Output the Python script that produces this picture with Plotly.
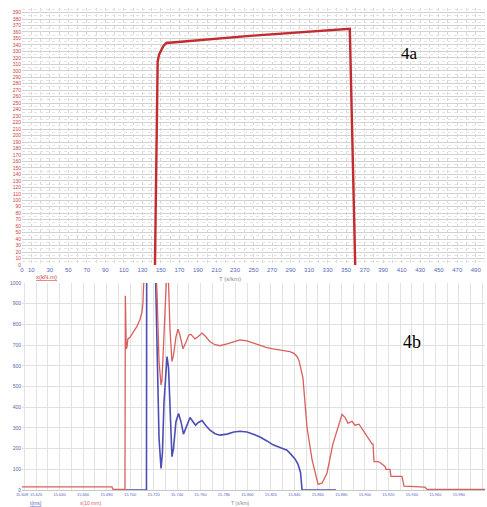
import plotly.graph_objects as go

# ---------------- Panel 4a data ----------------
a_x = [143.5, 146.5, 148.0, 150.0, 152.5, 156.0, 246.0, 354.0, 360.0]
a_y = [-10, 314, 325, 332, 338, 343, 354, 365, -10]
a_xticks = [0, 10] + list(range(30, 500, 20))
a_yticks = list(range(0, 400, 10))

# ---------------- Panel 4b data (time in ms after 15.600 s) ----------------
b_t_red = [8, 84.6, 85.5, 95.7, 96.0, 96.8, 97.4, 98.2, 100.0, 102.5, 105.9, 108.5,
           110.2, 111.0, 111.9, 112.7, 121.3, 123.0, 124.7, 126.0, 126.4, 127.2,
           128.5, 129.8, 130.2, 131.5, 132.8, 134.0, 135.7, 137.0, 139.1, 140.9,
           142.6, 145.1, 147.7, 150.2, 151.9, 155.3, 157.9, 161.3, 163.8, 168.1,
           172.4, 176.6, 182.6, 188.5, 193.6, 199.6, 205.6, 210.7, 216.6, 221.8,
           229.4, 236.2, 239.6, 242.2, 243.9, 244.7, 247.3, 249.0, 250.7, 255.0,
           260.1, 263.5, 267.7, 272.8, 277.1, 280.5, 283.1, 285.6, 289.0, 291.6,
           295.0, 298.4, 302.7, 306.1, 306.9, 307.8, 311.2, 312.9, 317.1, 318.0,
           321.4, 322.2, 331.6, 333.3, 351.2, 352.9, 402.3]
b_red = [15, 15, 3, 3, 938, 682, 690, 730, 738, 760, 790, 825,
         860, 905, 1000, 1150, 1150, 950, 620, 520, 507, 530,
         700, 950, 1000, 1080, 1000, 780, 621, 650, 740, 777,
         745, 682, 715, 750, 752, 730, 740, 758, 745, 716,
         702, 697, 706, 718, 725, 720, 708, 697, 688, 682,
         676, 668, 660, 645, 625, 605, 540, 420, 303, 147,
         28, 33, 81, 223, 305, 365, 351, 322, 332, 313,
         318, 289, 256, 223, 223, 137, 137, 133, 114, 100,
         100, 66, 66, 19, 14, 3, 3]

b_t_blue = [95.7, 114.0, 114.2, 121.3, 123.0, 124.7, 126.4, 127.6, 128.9, 130.6,
            131.5, 132.8, 134.0, 135.7, 137.0, 139.1, 141.3, 143.4, 145.5, 147.7,
            151.1, 153.6, 155.8, 157.9, 161.3, 164.7, 168.1, 172.4, 176.6, 182.6,
            188.5, 193.6, 199.6, 205.6, 210.7, 216.6, 221.8, 227.7, 233.7, 237.1,
            240.5, 243.0, 245.2, 246.5, 275.4]
b_blue = [0, 0, 1150, 1150, 700, 250, 104, 180, 420, 610,
          645, 590, 380, 161, 200, 330, 370, 330, 270, 300,
          350, 330, 313, 325, 336, 310, 289, 272, 265, 270,
          280, 284, 280, 268, 256, 237, 218, 205, 192, 172,
          150, 125, 85, 0, 0]

b_xticks = [8] + list(range(20, 401, 20))
b_xlabels = [f"{15.6 + v / 1000:.3f}" for v in b_xticks]
b_yticks = list(range(0, 1001, 100))

W, H = 487, 507

fig = go.Figure()
fig.add_trace(go.Scatter(x=a_x, y=a_y, xaxis="x", yaxis="y", mode="lines",
                         line=dict(color="#c42b2f", width=2.4), showlegend=False))
fig.add_trace(go.Scatter(x=b_t_blue, y=b_blue, xaxis="x2", yaxis="y2", mode="lines",
                         line=dict(color="#4b4fb5", width=1.6), showlegend=False))
fig.add_trace(go.Scatter(x=b_t_red, y=b_red, xaxis="x2", yaxis="y2", mode="lines",
                         line=dict(color="#d8605c", width=1.3), showlegend=False))

fig.update_layout(
    template="none",
    width=W, height=H,
    margin=dict(l=0, r=0, t=0, b=0),
    paper_bgcolor="white", plot_bgcolor="white",
    font=dict(family="Liberation Sans, Arial, sans-serif"),
    xaxis=dict(domain=[22 / W, 485 / W], range=[0, 500], anchor="y", automargin=False,
               tickmode="array", tickvals=a_xticks, tickangle=0,
               tickfont=dict(size=6, color="#5566bb"),
               showgrid=True, gridcolor="#d8d8d8", griddash="dot", gridwidth=1,
               minor=dict(tickvals=list(range(20, 500, 20)), showgrid=True,
                          gridcolor="#d8d8d8", griddash="dot"),
               zeroline=False, showline=False, ticks=""),
    yaxis=dict(domain=[1 - 265 / H, 1 - 8 / H], range=[0, 397], anchor="x", automargin=False,
               tickmode="array", tickvals=a_yticks,
               tickfont=dict(size=5, color="#cc4040"),
               showgrid=True, gridcolor="#d2d2d2", gridwidth=1,
               minor=dict(tick0=5, dtick=10, showgrid=True, gridcolor="#e4e4e4",
                          griddash="dot"),
               zeroline=False, showline=False, ticks=""),
    xaxis2=dict(domain=[22 / W, 485 / W], range=[8, 402.3], anchor="y2", automargin=False,
                tickmode="array", tickvals=b_xticks, ticktext=b_xlabels, tickangle=0,
                tickfont=dict(size=4, color="#5566bb"),
                showgrid=True, gridcolor="#e2e2e2",
                minor=dict(tick0=0, dtick=10, showgrid=True, gridcolor="#e2e2e2"),
                zeroline=False, showline=True, linecolor="#c8c8c8", ticks=""),
    yaxis2=dict(domain=[1 - 490 / H, 1 - 283 / H], range=[0, 1000], anchor="x2", automargin=False,
                tickmode="array", tickvals=b_yticks,
                tickfont=dict(size=5, color="#5566aa"),
                showgrid=True, gridcolor="#e0e0e0",
                zeroline=False, showline=False, ticks=""),
    annotations=[
        dict(text="4a", x=420 / W, y=1 - 42 / H, xref="paper", yref="paper",
             showarrow=False, font=dict(family="Liberation Serif, Times New Roman, serif",
                                        size=17, color="black")),
        dict(text="4b", x=423 / W, y=1 - 354 / H, xref="paper", yref="paper",
             showarrow=False, font=dict(family="Liberation Serif, Times New Roman, serif",
                                        size=18, color="black")),
        dict(text="<u>x(kN.m)</u>", x=34 / W, y=1 - 277 / H, xref="paper", yref="paper",
             showarrow=False, font=dict(size=6, color="#cc4040")),
        dict(text="T (s/km)", x=230 / W, y=1 - 279 / H, xref="paper", yref="paper",
             showarrow=False, font=dict(size=6, color="#888888")),
        dict(text="<u>t(ms)</u>", x=29 / W, y=0, yanchor="bottom", borderpad=0,
             xref="paper", yref="paper",
             showarrow=False, font=dict(size=5, color="#5566bb")),
        dict(text="x(10 mm)", x=79 / W, y=0, yanchor="bottom", borderpad=0,
             xref="paper", yref="paper",
             showarrow=False, font=dict(size=5, color="#d8605c")),
        dict(text="T (s/km)", x=240 / W, y=0, yanchor="bottom", borderpad=0,
             xref="paper", yref="paper",
             showarrow=False, font=dict(size=5, color="#888888")),
    ],
)

fig.write_html("out.html", config={"displayModeBar": False},
               post_script="document.body.style.margin='0px';document.body.style.overflow='hidden';")
